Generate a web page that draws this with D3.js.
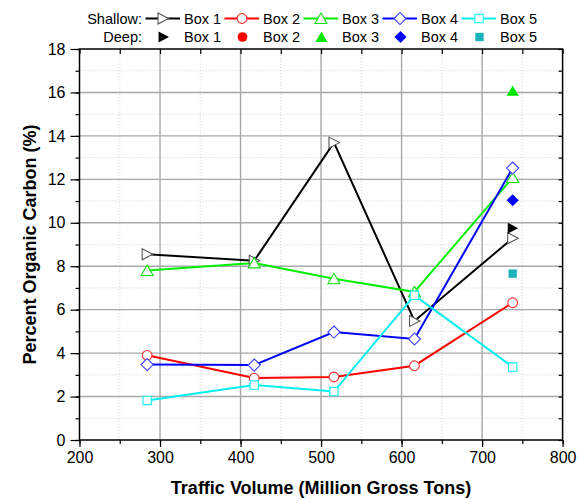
<!DOCTYPE html>
<html>
<head>
<meta charset="utf-8">
<script src="https://cdn.jsdelivr.net/npm/d3@7"></script>
<style>
  body { margin: 0; background: #fff; }
  svg { display: block; font-family: "Liberation Sans", Arial, sans-serif; }
</style>
</head>
<body>
<svg id="chart" width="585" height="499"></svg>
<script>
// ---- data ----
const traffic = [284, 417, 516, 616, 738];
const boxes = ["Box 1", "Box 2", "Box 3", "Box 4", "Box 5"];
const shallowBox1 = [8.55, 8.25, 13.69, 5.48, 9.29];
const shallowBox2 = [3.9, 2.85, 2.9, 3.42, 6.32];
const shallowBox3 = [7.8, 8.15, 7.42, 6.82, 12.08];
const shallowBox4 = [3.47, 3.45, 4.97, 4.65, 12.52];
const shallowBox5 = [1.82, 2.53, 2.23, 6.66, 3.36];
const deepX = [738, 738, 738, 738];
const deepBoxes = ["Box 1", "Box 3", "Box 4", "Box 5"];
const deepValues = [9.75, 16.07, 11.04, 7.66];
const xTicks = [200, 300, 400, 500, 600, 700, 800];
const yTicks = [0, 2, 4, 6, 8, 10, 12, 14, 16, 18];

// ---- styles ----
const shallow = [shallowBox1, shallowBox2, shallowBox3, shallowBox4, shallowBox5];
const lineColors = ["#000000", "#ff0000", "#00f000", "#0000ff", "#00f0f0"];
const markerStroke = ["#555555", "#ff3030", "#10e010", "#4040ff", "#10f0f0"];
const deepColors = { "Box 1": "#000000", "Box 2": "#ff0000", "Box 3": "#00e800", "Box 4": "#0000ff", "Box 5": "#1cb4b8" };
const shapes = ["triRight", "circle", "triUp", "diamond", "square"];

function shapePath(type, s) {
  switch (type) {
    case "triRight": return `M${-s*0.45},${-s*0.5}L${s*0.5},0L${-s*0.45},${s*0.5}Z`;
    case "triUp": return `M0,${-s*0.5}L${s*0.55},${s*0.45}L${-s*0.55},${s*0.45}Z`;
    case "diamond": return `M0,${-s*0.55}L${s*0.55},0L0,${s*0.55}L${-s*0.55},0Z`;
    case "square": return `M${-s*0.38},${-s*0.38}H${s*0.38}V${s*0.38}H${-s*0.38}Z`;
    case "circle": { const r = s*0.44; return `M${r},0A${r},${r} 0 1,1 ${-r},0A${r},${r} 0 1,1 ${r},0Z`; }
  }
}

const svg = d3.select("#chart");
const pL = 79.5, pR = 562.6, pT = 49, pB = 440;
const x = d3.scaleLinear().domain([200, 800]).range([pL, pR]);
const y = d3.scaleLinear().domain([0, 18]).range([pB, pT]);

// minor grid
const g = svg.append("g");
g.selectAll(".mgx").data(d3.range(250, 800, 100)).enter().append("line")
  .attr("x1", d => x(d)).attr("x2", d => x(d)).attr("y1", pT).attr("y2", pB)
  .attr("stroke", "#d8d0d0").attr("stroke-width", 1).attr("stroke-dasharray", "1,2");
g.selectAll(".mgy").data(d3.range(1, 18, 2)).enter().append("line")
  .attr("y1", d => y(d)).attr("y2", d => y(d)).attr("x1", pL).attr("x2", pR)
  .attr("stroke", "#d8d0d0").attr("stroke-width", 1).attr("stroke-dasharray", "1,2");
// major grid
g.selectAll(".gx").data(xTicks.slice(1, -1)).enter().append("line")
  .attr("x1", d => x(d)).attr("x2", d => x(d)).attr("y1", pT).attr("y2", pB)
  .attr("stroke", "#a8a8a8").attr("stroke-width", 1.4);
g.selectAll(".gy").data(yTicks.slice(1, -1)).enter().append("line")
  .attr("y1", d => y(d)).attr("y2", d => y(d)).attr("x1", pL).attr("x2", pR)
  .attr("stroke", "#a8a8a8").attr("stroke-width", 1.4);

// axes
const xMinor = d3.range(200, 801, 50);
const yMinor = d3.range(0, 18.01, 1);
const axB = svg.append("g").attr("transform", `translate(0,${pB})`)
  .call(d3.axisBottom(x).tickValues(xMinor).tickSize(4).tickFormat(""));
const axB2 = svg.append("g").attr("transform", `translate(0,${pB})`)
  .call(d3.axisBottom(x).tickValues(xTicks).tickSize(7).tickPadding(5).tickFormat(d3.format("d")));
const axT = svg.append("g").attr("transform", `translate(0,${pT})`)
  .call(d3.axisBottom(x).tickValues(xMinor).tickSize(5).tickFormat(""));
const axL = svg.append("g").attr("transform", `translate(${pL},0)`)
  .call(d3.axisLeft(y).tickValues(yMinor).tickSize(4).tickFormat(""));
const axL2 = svg.append("g").attr("transform", `translate(${pL},0)`)
  .call(d3.axisLeft(y).tickValues(yTicks).tickSize(9).tickPadding(5).tickFormat(d3.format("d")));
const axR = svg.append("g").attr("transform", `translate(${pR},0)`)
  .call(d3.axisLeft(y).tickValues(yMinor).tickSize(4).tickFormat(""));
[axB, axB2, axT, axL, axL2, axR].forEach(a => {
  a.select(".domain").remove();
  a.selectAll("line").attr("stroke", "#000").attr("stroke-width", 1.2);
  a.selectAll("text").attr("fill", "#000").style("font-size", "16px")
   .style("font-family", "'Liberation Sans', Arial, sans-serif");
});
// frame
svg.append("rect").attr("x", pL).attr("y", pT).attr("width", pR - pL).attr("height", pB - pT)
  .attr("fill", "none").attr("stroke", "#000").attr("stroke-width", 1.5);

// shallow series
const line = d3.line().x((d, i) => x(traffic[i])).y(d => y(d));
shallow.forEach((vals, k) => {
  svg.append("path").datum(vals).attr("d", line).attr("fill", "none")
    .attr("stroke", lineColors[k]).attr("stroke-width", 2);
});
shallow.forEach((vals, k) => {
  svg.selectAll(null).data(vals).enter().append("path")
    .attr("transform", (d, i) => `translate(${x(traffic[i])},${y(d)})`)
    .attr("d", shapePath(shapes[k], 11))
    .attr("fill", "#fff").attr("stroke", markerStroke[k]).attr("stroke-width", 1.1);
});
// deep points
svg.selectAll(null).data(deepValues).enter().append("path")
  .attr("transform", (d, i) => `translate(${x(deepX[i])},${y(d)})`)
  .attr("d", (d, i) => shapePath(shapes[boxes.indexOf(deepBoxes[i])], 11))
  .attr("fill", (d, i) => deepColors[deepBoxes[i]]);

// legend
const leg = svg.append("g").style("font-size", "14.5px");
const row1 = 18.5, row2 = 37;
leg.append("text").attr("x", 142).attr("y", row1).attr("dy", "0.35em").attr("text-anchor", "end").text("Shallow:");
leg.append("text").attr("x", 142).attr("y", row2).attr("dy", "0.35em").attr("text-anchor", "end").text("Deep:");
boxes.forEach((b, i) => {
  const x0 = 145.5 + 79 * i;
  leg.append("line").attr("x1", x0).attr("x2", x0 + 34.5).attr("y1", row1).attr("y2", row1)
    .attr("stroke", lineColors[i]).attr("stroke-width", 2);
  leg.append("path").attr("transform", `translate(${x0 + 17.5},${row1})`)
    .attr("d", shapePath(shapes[i], 11)).attr("fill", "#fff").attr("stroke", markerStroke[i]).attr("stroke-width", 1.1);
  leg.append("text").attr("x", x0 + 38.5).attr("y", row1).attr("dy", "0.35em").text(b);
  leg.append("path").attr("transform", `translate(${x0 + 18},${row2})`)
    .attr("d", shapePath(shapes[i], 11)).attr("fill", deepColors[b]);
  leg.append("text").attr("x", x0 + 38.5).attr("y", row2).attr("dy", "0.35em").text(b);
});

// axis titles
svg.append("text").attr("x", (pL + pR) / 2).attr("y", 494).attr("text-anchor", "middle")
  .style("font-size", "18px").style("font-weight", "bold").text("Traffic Volume (Million Gross Tons)");
svg.append("text").attr("transform", `translate(36,${(pT + pB) / 2}) rotate(-90)`).attr("text-anchor", "middle")
  .style("font-size", "18px").style("font-weight", "bold").text("Percent Organic Carbon (%)");
</script>
</body>
</html>
